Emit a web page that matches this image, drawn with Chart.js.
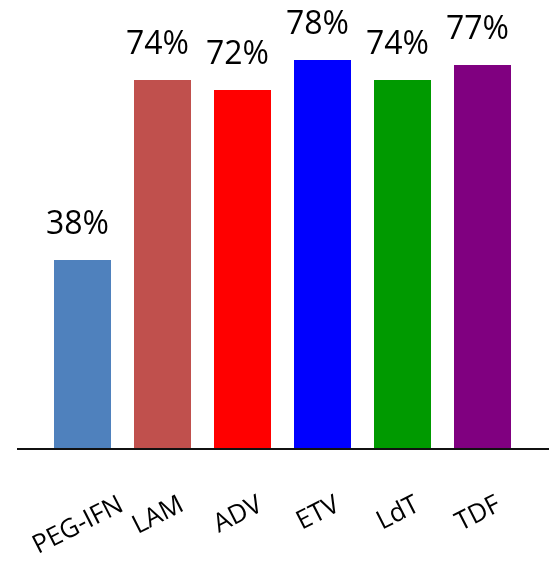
<!DOCTYPE html>
<html>
<head>
<meta charset="utf-8">
<title>Response by drug</title>
<script src="https://cdn.jsdelivr.net/npm/chart.js@4/dist/chart.umd.min.js"></script>
<style>
  html, body { margin: 0; padding: 0; background: #ffffff; }
  #wrap { width: 549px; height: 561px; }
</style>
</head>
<body>
<div id="wrap"><canvas id="chart" width="549" height="561"></canvas></div>
<script>
// Drugs and their response rates (%)
const drugs = ['PEG-IFN', 'LAM', 'ADV', 'ETV', 'LdT', 'TDF'];
const rates = [38, 74, 72, 78, 74, 77];
const barColors = ['#4F81BD', '#C0504D', '#FF0000', '#0000FF', '#009A00', '#800080'];

const FONT = '"Open Sans", "DejaVu Sans", sans-serif';

// Percent labels above each bar, rotated drug names below, and the base line
const decorations = {
  id: 'decorations',
  afterDatasetsDraw(chart) {
    const ctx = chart.ctx;
    const meta = chart.getDatasetMeta(0);
    const xs = chart.scales.x;
    const area = chart.chartArea;

    ctx.save();
    ctx.fillStyle = '#000000';
    ctx.font = '32px ' + FONT;
    ctx.textAlign = 'center';
    ctx.textBaseline = 'alphabetic';
    meta.data.forEach((bar, i) => {
      ctx.fillText(rates[i] + '%', bar.x - 5, bar.y - 26);
    });

    // base line
    ctx.strokeStyle = '#111111';
    ctx.lineWidth = 2;
    ctx.beginPath();
    ctx.moveTo(17, area.bottom - 1);
    ctx.lineTo(549, area.bottom - 1);
    ctx.stroke();

    // category names, tilted
    const angle = 27 * Math.PI / 180;
    ctx.font = '26px ' + FONT;
    ctx.textAlign = 'center';
    ctx.textBaseline = 'alphabetic';
    drugs.forEach((name, i) => {
      const w = ctx.measureText(name).width;
      const x = xs.getPixelForTick(i) - 1;
      const y = 510 + (w / 2) * Math.sin(angle);
      ctx.save();
      ctx.translate(x, y);
      ctx.rotate(-angle);
      ctx.fillText(name, 0, 0);
      ctx.restore();
    });
    ctx.restore();
  }
};

new Chart(document.getElementById('chart'), {
  type: 'bar',
  data: {
    labels: drugs,
    datasets: [{
      data: rates,
      backgroundColor: barColors,
      borderWidth: 0,
      barPercentage: 0.7125,
      categoryPercentage: 1.0
    }]
  },
  options: {
    responsive: false,
    animation: false,
    layout: { padding: { left: 42.5, right: 26.5, top: 0, bottom: 111 } },
    plugins: {
      legend: { display: false },
      tooltip: { enabled: false }
    },
    scales: {
      x: { display: false },
      y: { display: false, min: 0, max: 90 }
    }
  },
  plugins: [decorations]
});
</script>
</body>
</html>
